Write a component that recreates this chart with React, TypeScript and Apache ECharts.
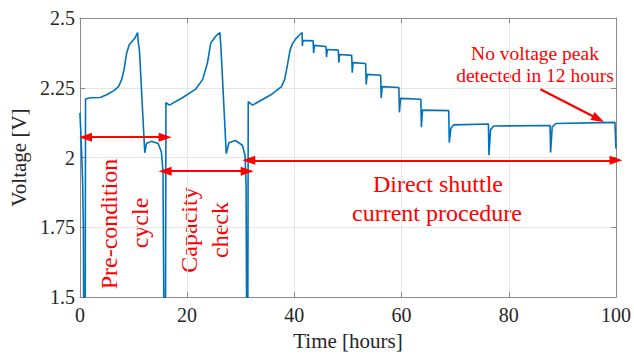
import React, { useEffect, useRef } from "react";
import * as echarts from "echarts";

// Time [hours]
const timeH: number[] = [
  0, 0.15, 0.3, 0.5, 0.65, 0.75, 0.98, 1.05, 2.0, 3.8, 5.0, 6.27, 7.2, 7.8, 8.24, 8.73, 9.2, 10.27, 10.76,
  10.9, 11.1, 12.1, 12.4, 13.3, 14.6, 15.2, 15.5, 15.75, 15.95, 16.05, 16.7, 19.2, 21.6, 22.9, 23.8, 24.4,
  25.3, 26.1, 26.3, 27.3, 27.8, 29.0, 30.3, 30.8, 31.0, 31.15, 31.3, 31.4, 32.2, 35.8, 37.6, 38.2, 38.7,
  39.2, 39.7, 40.4, 41.0, 41.45, 41.5, 41.6, 43.5, 43.6, 43.75, 45.9, 46.0, 46.15, 48.2, 48.3, 48.45, 50.7,
  50.8, 50.95, 53.3, 53.4, 53.6, 56.1, 56.2, 56.4, 59.5, 59.6, 59.8, 63.6, 63.7, 63.9, 68.8, 68.9, 69.2,
  69.7, 76.2, 76.3, 76.6, 77.2, 87.7, 87.8, 88.1, 88.8, 99.8, 100,
];
// Voltage [V]
const voltageV: number[] = [
  2.16, 2.1, 2.03, 1.92, 1.75, 1.2, 1.2, 2.21, 2.214, 2.215, 2.225, 2.239, 2.254, 2.28, 2.316, 2.375, 2.404,
  2.428, 2.448, 2.41, 2.387, 2.017, 2.05, 2.058, 2.05, 2.02, 1.95, 1.2, 1.2, 2.197, 2.188, 2.215, 2.245,
  2.28, 2.34, 2.41, 2.434, 2.448, 2.398, 2.014, 2.053, 2.061, 2.044, 2.008, 1.9, 1.2, 1.2, 2.2, 2.188,
  2.227, 2.254, 2.28, 2.33, 2.385, 2.41, 2.428, 2.44, 2.448, 2.4, 2.42, 2.418, 2.375, 2.402, 2.398, 2.36,
  2.387, 2.385, 2.34, 2.369, 2.366, 2.304, 2.34, 2.337, 2.262, 2.298, 2.295, 2.213, 2.254, 2.251, 2.162,
  2.212, 2.209, 2.109, 2.17, 2.168, 2.053, 2.105, 2.117, 2.12, 2.008, 2.1, 2.113, 2.115, 2.018, 2.11,
  2.122, 2.126, 2.032,
];

const xTicks = { min: 0, max: 100, interval: 20 };
const yTicks = { min: 1.5, max: 2.5, interval: 0.25 };

// Annotation arrows [x1, y1, x2, y2] in data units
const arrowPreCondition = [1.05, 2.073, 15.9, 2.073];
const arrowCapacity = [15.9, 1.951, 31.2, 1.951];
const arrowShuttle = [31.5, 1.99, 100, 1.99];
const arrowNoPeak = [85.9, 2.245, 96.7, 2.138];

const FONT = "'Liberation Serif', 'Times New Roman', serif";
const RED = "#ff0000";
const TXT = "#262626";

export default function App() {
  const ref = useRef<HTMLDivElement>(null);
  useEffect(() => {
    if (!ref.current) return;
    const chart = echarts.init(ref.current, null, { renderer: "svg" });
    const data = timeH.map((t, i) => [t, voltageV[i]]);
    const dbl = (a: number[]) => [
      { coord: [a[0], a[1]], symbol: "triangle" },
      { coord: [a[2], a[3]], symbol: "triangle" },
    ];
    const axisCommon = {
      axisLine: { show: true, onZero: false, lineStyle: { color: "#8a8a8a", width: 1 } },
      axisTick: { show: true, inside: true, length: 5, lineStyle: { color: "#8a8a8a" } },
    };
    chart.setOption({
      animation: false,
      backgroundColor: "#ffffff",
      grid: { left: 76, right: 16, top: 18, bottom: 56, containLabel: false },
      xAxis: [
        {
          type: "value",
          ...xTicks,
          ...axisCommon,
          name: "Time [hours]",
          nameLocation: "middle",
          nameGap: 30,
          nameTextStyle: { fontFamily: FONT, fontSize: 21, color: TXT },
          axisLabel: { fontFamily: FONT, fontSize: 20, color: TXT, margin: 8, showMaxLabel: true, showMinLabel: true },
          splitLine: { show: true, lineStyle: { color: "#e6e6e6", width: 1 } },
        },
        {
          type: "value",
          position: "top",
          ...xTicks,
          ...axisCommon,
          axisLabel: { show: false },
          splitLine: { show: false },
        },
      ],
      yAxis: [
        {
          type: "value",
          ...yTicks,
          ...axisCommon,
          name: "Voltage [V]",
          nameLocation: "middle",
          nameGap: 44,
          nameTextStyle: { fontFamily: FONT, fontSize: 21, color: TXT },
          axisLabel: { fontFamily: FONT, fontSize: 20, color: TXT, margin: 5 },
          splitLine: { show: true, lineStyle: { color: "#e6e6e6", width: 1 } },
        },
        {
          type: "value",
          position: "right",
          ...yTicks,
          ...axisCommon,
          axisLabel: { show: false },
          splitLine: { show: false },
        },
      ],
      series: [
        {
          type: "line",
          data,
          showSymbol: false,
          symbol: "none",
          clip: true,
          lineStyle: { color: "#0072BD", width: 1.6 },
          markLine: {
            silent: true,
            symbolSize: [9, 13],
            label: { show: false },
            lineStyle: { color: RED, width: 2.2, type: "solid" },
            emphasis: { disabled: true },
            data: [
              dbl(arrowPreCondition),
              dbl(arrowCapacity),
              dbl(arrowShuttle),
              [
                { coord: [arrowNoPeak[0], arrowNoPeak[1]], symbol: "none" },
                { coord: [arrowNoPeak[2], arrowNoPeak[3]], symbol: "triangle" },
              ],
            ],
          },
        },
      ],
      graphic: [
        { type: "text", x: 109, y: 224, rotation: Math.PI / 2, style: { text: "Pre-condition", fill: RED, font: `24px ${FONT}`, align: "center", verticalAlign: "middle" } },
        { type: "text", x: 140, y: 223, rotation: Math.PI / 2, style: { text: "cycle", fill: RED, font: `24px ${FONT}`, align: "center", verticalAlign: "middle" } },
        { type: "text", x: 189, y: 230, rotation: Math.PI / 2, style: { text: "Capacity", fill: RED, font: `24px ${FONT}`, align: "center", verticalAlign: "middle" } },
        { type: "text", x: 220, y: 230, rotation: Math.PI / 2, style: { text: "check", fill: RED, font: `24px ${FONT}`, align: "center", verticalAlign: "middle" } },
        { type: "text", x: 438, y: 184, style: { text: "Direct shuttle", fill: RED, font: `24px ${FONT}`, align: "center", verticalAlign: "middle" } },
        { type: "text", x: 437, y: 213, style: { text: "current procedure", fill: RED, font: `24px ${FONT}`, align: "center", verticalAlign: "middle" } },
        { type: "text", x: 535, y: 53, style: { text: "No voltage peak", fill: RED, font: `19.5px ${FONT}`, align: "center", verticalAlign: "middle" } },
        { type: "text", x: 535, y: 75, style: { text: "detected in 12 hours", fill: RED, font: `19.5px ${FONT}`, align: "center", verticalAlign: "middle" } },
      ],
    });
    return () => chart.dispose();
  }, []);
  return <div ref={ref} style={{ width: 634, height: 356, position: "absolute", left: 0, top: 0 }} />;
}
